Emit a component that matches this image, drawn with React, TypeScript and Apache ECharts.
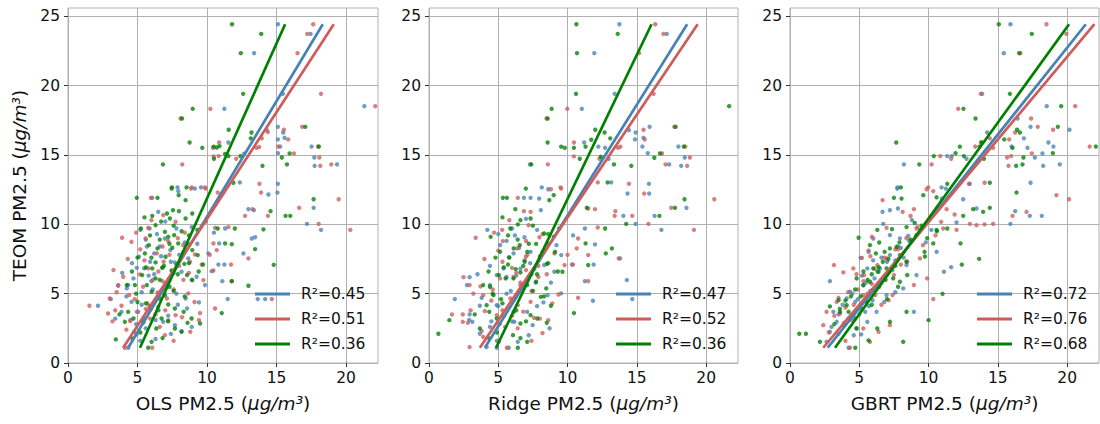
import React, { useEffect, useRef } from 'react';
import * as echarts from 'echarts';

const FONT = "'DejaVu Sans', sans-serif";
const COLORS = ['#4682b4', '#cd5c5c', '#008000'];

const xTicks = [0, 5, 10, 15, 20];
const yTicks = [0, 5, 10, 15, 20, 25];

// regression line y-extent and x-ends (blue, red, green)
const fitY = [1.1, 24.43];
const olsFitX = [[4.33, 18.33], [3.97, 19.12], [5.18, 15.62]];
const ridgeFitX = [[4.03, 18.63], [3.67, 19.39], [4.84, 16.06]];
const gbrtFitX = [[2.72, 21.35], [2.4, 21.97], [3.25, 20.14]];

const olsR2 = ['0.45', '0.51', '0.36'];
const ridgeR2 = ['0.47', '0.52', '0.36'];
const gbrtR2 = ['0.72', '0.76', '0.68'];

const olsBlue = [
  [15.1, 24.43], [17.45, 23.73], [13.39, 22.34], [15.46, 19.41], [21.32, 18.52], [11.25, 18.33], [15.1, 17.03], [15.48, 16.62],
  [15.58, 16.24], [15.1, 16.12], [15.26, 15.61], [17.52, 15.61], [15.1, 15.13], [17.72, 14.82], [17.74, 14.22], [19.35, 14.32],
  [11.54, 15.9], [12.36, 13.02], [15.1, 12.92], [7.88, 12.66], [9.57, 12.66], [14.3, 16.8], [12.67, 15.09],
  [7.93, 12.39], [9.13, 12.58], [12.98, 11.09], [13.37, 11.02], [14.42, 12.15], [15.07, 12.29], [17.67, 11.19], [17.19, 10.03],
  [18.2, 9.6], [13.46, 9.07], [13.22, 8.98], [11.3, 9.7], [10.87, 8.62], [10.1, 7.9], [10.82, 7.1], [11.25, 7.1], [12.62, 7.9],
  [11.49, 4.61], [13.65, 4.61], [14.18, 4.61], [11.1, 5.9], [10.34, 6.62], [9.86, 5.62], [9.25, 6.22], [8.65, 7.54], [8.17, 6.58],
  [7.69, 7.25], [7.36, 8.14], [6.97, 8.98], [6.49, 10.9], [5.87, 9.7], [5.67, 8.4], [5.91, 7.3], [5.48, 6.82], [4.95, 6.86],
  [5.1, 7.66], [4.71, 6.1], [4.33, 5.62], [3.61, 5.57], [3.08, 4.61], [2.16, 4.13], [3.85, 3.69], [4.57, 4.41], [5.05, 3.69],
  [5.53, 3.21], [5.96, 3.89], [6.49, 4.05], [6.85, 2.97], [7.21, 3.41], [7.69, 2.73], [8.17, 2.3], [8.56, 3.93], [9.42, 4.37],
  [8.46, 4.65], [6.3, 1.73], [4.33, 1.1], [4.76, 2.25], [4.23, 5.38], [6.06, 11.91], [6.2, 6.4], [6.7, 7.7], [7.3, 6.1],
  [5.3, 5.1], [6.0, 5.9], [7.8, 5.0], [5.6, 2.5], [4.5, 3.1], [6.6, 8.4], [8.9, 9.8], [9.9, 10.2],
  [5.2, 9.6], [6.4, 9.3], [7.0, 10.2], [7.8, 9.7], [8.4, 8.7], [5.6, 8.9], [6.2, 7.9], [7.4, 7.3], [8.0, 7.8], [4.6, 7.2],
  [5.8, 6.3], [6.8, 6.9], [7.6, 6.5], [8.9, 6.0], [4.2, 4.8], [5.3, 4.2], [6.1, 5.3], [7.0, 5.7], [7.9, 4.2], [3.4, 3.2],
  [4.9, 2.8], [6.3, 3.1], [7.4, 2.1], [8.9, 2.6], [5.2, 1.6], [9.3, 8.6], [10.5, 9.4], [3.9, 6.5],
];
const olsRed = [
  [17.64, 24.43], [17.21, 23.73], [16.51, 22.34], [18.2, 19.41], [22.1, 18.52], [10.24, 18.33], [8.1, 17.63], [15.53, 16.82],
  [15.84, 16.12], [16.85, 17.03], [17.98, 15.61], [16.25, 15.11], [18.08, 14.82], [18.15, 14.22], [18.94, 14.32], [8.22, 14.32],
  [10.87, 15.9], [10.43, 15.52], [10.48, 14.9], [10.84, 14.92], [12.1, 14.73], [13.75, 15.57], [13.56, 15.52], [13.94, 16.2],
  [13.77, 12.92], [8.9, 12.66], [9.86, 12.66], [15.12, 15.61], [14.38, 16.65],
  [5.96, 11.91], [8.85, 12.58], [9.9, 12.58], [10.77, 12.29], [13.89, 12.29], [12.74, 10.61], [13.27, 11.09], [16.63, 11.19],
  [19.47, 11.81], [20.31, 9.6], [18.03, 10.03], [14.38, 10.61], [11.54, 9.8], [10.58, 9.75], [10.46, 8.62], [10.7, 8.14],
  [12.98, 7.54], [11.73, 7.1], [11.78, 5.9], [10.46, 6.67], [9.62, 7.1], [9.13, 7.83], [8.77, 7.3], [8.29, 8.5], [7.74, 10.18],
  [6.85, 10.66], [5.77, 9.75], [4.57, 8.74], [3.89, 9.03], [5.58, 8.98], [6.39, 7.9], [6.88, 7.3], [5.77, 6.82], [5.17, 6.39],
  [3.97, 6.22], [3.27, 6.7], [3.61, 5.62], [3.0, 4.65], [1.54, 4.13], [2.88, 3.57], [3.85, 4.13], [4.47, 3.02], [4.95, 3.69],
  [5.72, 4.29], [6.44, 5.09], [7.12, 4.65], [7.21, 3.09], [7.74, 3.45], [8.65, 5.02], [8.8, 2.25], [9.42, 3.09], [9.5, 3.6],
  [10.58, 3.93], [4.93, 2.06], [6.06, 1.1], [4.09, 1.1], [6.97, 2.01], [9.74, 5.98], [14.66, 4.61], [6.1, 6.0], [7.5, 6.6],
  [5.4, 5.5], [6.8, 8.4], [7.9, 9.0], [4.4, 4.9], [5.9, 3.2], [8.3, 6.0],
  [4.9, 9.4], [6.0, 10.3], [7.2, 8.8], [8.4, 9.4], [5.2, 8.2], [6.5, 6.6], [7.3, 7.8], [8.0, 7.0], [4.3, 7.5], [5.5, 7.4],
  [6.8, 5.9], [7.6, 5.3], [8.7, 6.5], [3.5, 5.1], [4.8, 4.6], [5.6, 3.9], [6.3, 3.5], [7.0, 3.8], [8.2, 3.3], [3.2, 3.0],
  [4.2, 2.4], [5.4, 2.9], [6.6, 2.6], [7.6, 1.6], [9.1, 4.4], [10.2, 7.8], [3.4, 3.8],
];
const olsGreen = [
  [11.8, 24.43], [13.9, 23.73], [12.43, 22.34], [12.6, 19.41], [8.97, 18.33], [8.2, 17.63], [11.56, 16.82], [13.2, 16.62],
  [13.15, 16.2], [8.75, 15.9], [9.66, 15.52], [10.48, 15.6], [10.7, 15.54], [10.9, 15.64], [11.54, 14.92], [10.5, 14.73],
  [11.3, 15.08], [15.38, 14.82], [15.94, 15.11], [17.07, 17.03], [18.05, 15.61], [15.75, 14.32], [13.99, 14.22], [6.83, 14.32],
  [11.9, 13.0], [7.48, 12.66], [8.53, 12.66], [12.4, 14.92],
  [4.95, 11.91], [6.44, 11.91], [7.45, 12.58], [7.96, 12.1], [8.46, 11.74], [7.55, 11.02], [7.33, 10.42], [6.06, 10.61],
  [14.57, 10.95], [15.65, 10.61], [15.99, 10.61], [17.67, 11.81], [14.06, 9.63], [12.0, 9.7], [11.3, 8.62], [11.78, 8.57],
  [10.77, 9.7], [13.46, 8.21], [9.71, 7.1], [11.78, 5.9], [14.8, 7.08], [11.06, 3.6], [12.98, 5.57], [9.5, 2.85], [3.44, 1.7],
  [5.77, 1.1], [5.24, 9.7], [6.3, 9.94], [7.12, 10.78], [7.98, 10.95], [8.46, 10.42], [8.94, 10.78], [6.97, 9.46], [7.64, 9.22],
  [8.17, 9.5], [5.82, 8.5], [6.44, 8.26], [7.02, 7.66], [7.5, 8.31], [7.93, 8.62], [8.7, 8.55], [8.94, 8.14], [9.33, 7.78],
  [6.06, 6.82], [6.3, 7.25], [6.78, 6.86], [7.45, 6.67], [7.81, 7.06], [8.37, 7.15], [8.56, 6.34], [8.94, 5.98], [4.23, 5.62],
  [4.81, 5.62], [5.34, 6.34], [5.67, 5.62], [6.01, 5.14], [6.59, 4.65], [6.97, 4.89], [7.21, 4.22], [7.69, 3.93], [8.32, 3.69],
  [8.89, 3.21], [4.33, 3.69], [4.71, 3.21], [5.43, 2.97], [6.35, 2.49], [6.73, 3.21], [7.69, 2.49], [8.17, 2.25], [6.01, 1.53],
  [4.09, 2.97], [4.62, 1.77], [5.53, 7.9], [7.21, 9.1], [5.9, 4.1], [6.6, 6.0], [7.3, 5.5], [5.0, 4.4],
  [5.5, 10.5], [6.7, 10.2], [7.6, 9.9], [8.7, 9.2], [9.3, 9.6], [5.9, 9.2], [6.6, 8.9], [7.3, 8.6], [8.3, 8.0], [5.0, 7.6],
  [6.0, 7.6], [6.9, 7.0], [7.9, 6.4], [8.7, 7.2], [4.6, 6.6], [5.6, 6.9], [6.3, 6.1], [7.6, 5.2], [8.4, 4.8], [4.9, 5.0],
  [5.6, 4.3], [6.5, 3.8], [7.2, 3.0], [8.6, 2.9], [5.2, 2.2], [6.8, 1.8], [9.4, 6.6], [3.7, 3.5],
];

const ridgeBlue = [
  [13.74, 24.43], [17.16, 23.73], [11.93, 22.34], [13.4, 19.41], [11.03, 18.33], [15.92, 17.03], [14.91, 16.62], [14.87, 16.12],
  [15.48, 16.24], [15.4, 15.61], [18.0, 15.61], [15.79, 15.13], [18.46, 14.82], [18.2, 14.22], [17.33, 14.32], [11.2, 15.9],
  [12.22, 15.6], [12.71, 15.52], [13.15, 13.02], [15.87, 12.92], [7.29, 14.32], [12.96, 14.73], [8.14, 12.66], [14.43, 16.79],
  [6.85, 11.91], [7.33, 11.91], [7.95, 11.86], [8.61, 12.53], [8.07, 11.02], [14.33, 12.22], [15.89, 12.22], [18.58, 11.19],
  [16.28, 10.61], [14.91, 10.03], [16.77, 9.6], [14.03, 10.61], [11.98, 8.55], [11.25, 9.7], [11.88, 7.1], [13.79, 7.54],
  [11.25, 5.9], [11.83, 4.49], [14.67, 4.61], [14.28, 5.98], [10.32, 7.1], [9.54, 7.78], [9.05, 6.58], [8.31, 7.06], [7.33, 8.02],
  [6.89, 9.07], [5.99, 9.7], [5.13, 8.5], [5.77, 7.63], [5.38, 6.82], [4.89, 6.34], [4.21, 9.6], [2.93, 6.19], [2.74, 5.62],
  [4.4, 5.62], [1.86, 4.61], [2.93, 3.5], [3.67, 4.13], [4.89, 4.17], [5.38, 3.36], [6.16, 2.97], [7.09, 3.69], [7.48, 2.73],
  [8.26, 4.37], [8.56, 4.89], [9.54, 5.02], [6.41, 1.53], [3.67, 2.11], [4.89, 1.1], [5.75, 1.1], [4.16, 1.15], [3.13, 2.97],
  [6.3, 6.3], [6.9, 7.4], [5.6, 5.0], [7.7, 5.8], [4.5, 3.0], [6.5, 8.3],
  [5.0, 9.3], [6.2, 9.2], [7.0, 10.4], [7.8, 9.6], [8.6, 8.6], [5.6, 8.8], [6.1, 7.9], [7.3, 7.2], [8.0, 7.7], [4.4, 7.0],
  [5.6, 6.2], [6.6, 6.8], [7.4, 6.4], [8.8, 5.8], [3.8, 4.7], [5.0, 4.1], [5.9, 5.2], [6.8, 5.5], [7.8, 4.1], [2.9, 3.1],
  [4.4, 2.6], [6.0, 3.0], [7.2, 2.0], [8.7, 2.5], [4.9, 1.6], [9.2, 8.5], [10.4, 9.2], [3.5, 6.4],
];
const ridgeRed = [
  [16.33, 24.43], [16.92, 23.73], [15.16, 22.34], [16.21, 19.41], [9.98, 18.33], [8.48, 17.63], [15.48, 16.82], [15.57, 16.12],
  [17.7, 17.03], [18.5, 15.61], [16.82, 15.11], [18.83, 14.82], [18.63, 14.22], [17.07, 14.32], [8.58, 14.32], [10.46, 15.9],
  [10.46, 14.9], [12.3, 14.73], [13.81, 15.6], [13.64, 15.52], [14.43, 12.92], [12.18, 13.02], [9.49, 12.66],
  [6.41, 11.91], [8.8, 12.53], [9.54, 12.58], [6.85, 10.95], [7.33, 10.9], [11.49, 11.14], [11.98, 11.09], [13.45, 10.95],
  [13.4, 10.61], [15.53, 12.22], [17.48, 11.19], [20.59, 11.81], [19.12, 9.6], [15.84, 10.03], [14.67, 10.61], [10.76, 8.98],
  [10.66, 8.26], [11.49, 7.78], [10.39, 7.1], [13.69, 7.54], [12.18, 9.77], [9.78, 7.06], [9.05, 7.9], [8.56, 8.59], [7.97, 9.07],
  [7.19, 9.94], [5.28, 9.6], [3.37, 9.03], [5.33, 8.79], [6.36, 8.26], [6.99, 7.66], [5.99, 6.86], [5.13, 6.1], [2.49, 6.19],
  [2.93, 5.62], [3.72, 5.52], [3.91, 4.89], [1.66, 3.5], [2.44, 3.5], [2.44, 2.97], [4.03, 3.74], [4.89, 3.45], [5.87, 4.65],
  [6.41, 4.17], [7.33, 4.41], [7.58, 3.26], [8.61, 3.09], [9.34, 4.94], [10.76, 4.7], [11.49, 5.9], [2.93, 1.15], [5.04, 1.53],
  [5.62, 1.1], [8.19, 2.16], [3.91, 1.89], [6.1, 6.2], [7.0, 6.7], [4.6, 5.3], [6.6, 5.6], [5.5, 2.6], [7.9, 6.2],
  [4.7, 9.4], [5.8, 10.3], [7.0, 8.8], [8.2, 9.3], [5.0, 8.1], [6.3, 6.5], [7.1, 7.8], [7.9, 7.0], [4.0, 7.5], [5.3, 7.3],
  [6.6, 5.8], [7.4, 5.2], [8.5, 6.4], [3.2, 5.0], [4.5, 4.5], [5.3, 3.8], [6.0, 3.4], [6.8, 3.7], [8.0, 3.2], [2.8, 2.9],
  [3.8, 2.3], [5.1, 2.8], [6.4, 2.5], [7.4, 1.6], [8.9, 4.3], [10.0, 7.8], [3.0, 3.8],
];
const ridgeGreen = [
  [10.64, 24.43], [13.62, 23.73], [10.68, 22.34], [10.61, 19.41], [21.66, 18.52], [8.85, 18.33], [8.56, 17.63], [12.0, 16.82],
  [12.67, 16.62], [13.08, 16.2], [8.56, 15.9], [9.54, 15.6], [9.8, 15.52], [11.3, 15.6], [11.71, 16.1], [17.8, 17.03],
  [18.39, 15.61], [10.88, 14.73], [12.4, 14.87], [14.6, 14.22], [13.35, 14.32], [16.67, 15.11], [16.26, 14.8], [7.38, 14.32],
  [12.89, 13.02], [10.46, 15.52],
  [5.33, 11.91], [5.62, 11.91], [6.99, 12.58], [9.0, 12.1], [8.68, 11.74], [6.23, 11.09], [11.39, 11.19], [12.71, 9.7],
  [13.2, 8.26], [12.76, 7.9], [18.44, 11.81], [16.63, 10.61], [17.75, 11.19], [14.23, 10.03], [11.3, 8.62], [11.49, 7.06],
  [10.46, 3.6], [0.68, 2.11], [1.47, 3.09], [4.45, 9.1], [5.87, 9.7], [6.41, 9.99], [7.33, 10.42], [8.31, 9.34], [9.0, 9.1],
  [5.13, 8.02], [6.11, 8.26], [6.55, 8.5], [7.09, 8.02], [7.73, 8.59], [8.51, 7.15], [9.1, 8.02], [9.63, 6.58], [3.91, 5.62],
  [4.4, 5.5], [4.65, 4.89], [5.04, 6.34], [5.53, 6.1], [6.26, 6.77], [6.6, 6.53], [7.09, 5.62], [7.73, 5.86], [8.07, 4.77],
  [8.46, 5.38], [4.16, 4.17], [4.35, 3.69], [4.89, 3.21], [6.11, 3.69], [6.6, 2.85], [7.33, 3.45], [7.82, 3.21], [8.8, 4.13],
  [6.06, 2.01], [6.41, 1.1], [7.09, 1.53], [4.35, 1.77], [3.67, 2.49], [5.7, 7.1], [6.9, 7.3], [7.6, 6.8], [5.2, 4.6],
  [5.3, 10.5], [6.6, 10.3], [7.5, 9.9], [8.6, 9.3], [9.4, 9.7], [5.7, 9.2], [6.4, 8.9], [7.2, 8.6], [8.2, 8.0], [4.8, 7.6],
  [5.8, 7.6], [6.8, 7.0], [7.8, 6.4], [8.6, 7.2], [4.3, 6.6], [5.4, 6.9], [6.1, 6.1], [7.5, 5.2], [8.3, 4.8], [4.6, 5.0],
  [5.3, 4.3], [6.3, 3.8], [7.0, 3.0], [8.5, 2.9], [4.9, 2.2], [6.6, 1.8], [9.3, 6.6], [3.3, 3.5],
];

const gbrtBlue = [
  [15.91, 24.43], [15.43, 22.34], [13.87, 19.41], [18.53, 18.52], [16.42, 17.63], [17.36, 17.03], [16.88, 16.2], [14.23, 16.62],
  [15.99, 15.61], [17.14, 15.52], [18.65, 15.9], [19.01, 15.61], [20.17, 16.82], [18.22, 15.11], [17.67, 14.82], [18.27, 14.22],
  [19.47, 14.32], [8.22, 14.32], [11.35, 14.92], [11.68, 14.92], [12.74, 14.73], [12.98, 12.92], [17.36, 13.0], [7.76, 12.66],
  [10.94, 12.66],
  [7.74, 12.58], [11.25, 12.58], [6.68, 10.9], [7.21, 11.02], [7.79, 11.14], [10.96, 11.86], [12.5, 11.81], [13.46, 11.14],
  [16.25, 10.95], [17.31, 10.61], [18.17, 10.61], [15.91, 10.03], [12.02, 10.13], [8.53, 9.17], [7.93, 8.98], [7.21, 9.22],
  [6.73, 10.03], [6.01, 8.98], [5.67, 8.02], [5.1, 7.58], [5.58, 6.82], [6.49, 6.82], [6.97, 6.34], [7.21, 7.78], [8.41, 7.06],
  [9.13, 6.34], [10.58, 8.02], [11.63, 6.91], [11.11, 6.58], [8.94, 3.69], [8.17, 5.38], [6.97, 4.89], [6.44, 5.5], [5.96, 4.53],
  [5.43, 3.69], [4.71, 4.41], [4.33, 5.14], [2.88, 5.9], [4.09, 4.65], [3.13, 3.69], [3.37, 2.97], [2.88, 2.25], [3.85, 2.73],
  [4.81, 2.49], [2.64, 1.53], [4.23, 1.1], [5.14, 2.06], [5.58, 2.97], [6.25, 3.69], [6.1, 6.1], [7.6, 7.4], [5.3, 5.6],
  [4.6, 3.5], [8.0, 8.3], [6.6, 7.6],
  [5.5, 5.8], [6.3, 6.6], [7.0, 7.3], [7.8, 8.4], [8.6, 8.8], [9.4, 9.6], [6.0, 7.4], [5.2, 6.3], [4.5, 5.0], [3.8, 4.2],
  [4.9, 4.6], [5.8, 5.2], [6.6, 5.8], [7.4, 6.7], [8.2, 7.6], [9.8, 8.7], [3.5, 3.5], [4.2, 3.2], [5.0, 3.5], [5.7, 4.1],
  [6.8, 4.4], [3.0, 2.6], [4.6, 2.0], [7.6, 5.1], [8.8, 10.3], [10.2, 9.6],
];
const gbrtRed = [
  [18.51, 24.43], [19.95, 23.73], [16.63, 22.34], [13.77, 19.41], [20.58, 18.52], [12.14, 18.33], [17.4, 17.63], [17.88, 17.03],
  [18.99, 16.82], [16.25, 16.62], [15.82, 16.12], [21.63, 15.61], [14.42, 16.2], [13.37, 15.61], [14.66, 15.52], [13.8, 15.9],
  [17.45, 15.11], [15.67, 14.82], [15.96, 14.92], [15.77, 14.22], [10.22, 14.32], [10.84, 14.92], [11.63, 14.73], [14.04, 13.0],
  [12.91, 12.92], [9.98, 12.66],
  [6.68, 11.74], [9.86, 12.53], [10.34, 12.39], [11.3, 11.09], [11.88, 10.71], [12.02, 9.6], [13.46, 9.94], [14.04, 9.99],
  [14.66, 10.03], [16.06, 10.61], [17.07, 10.9], [19.23, 12.1], [20.14, 11.81], [12.98, 10.03], [10.91, 10.18], [11.06, 9.7],
  [9.13, 9.7], [8.94, 11.09], [8.13, 10.9], [6.97, 9.75], [5.91, 9.1], [5.67, 8.11], [5.19, 7.58], [3.85, 6.53], [3.17, 7.06],
  [4.57, 6.82], [5.34, 6.34], [6.3, 7.06], [6.97, 7.54], [7.5, 6.34], [8.46, 7.3], [9.38, 7.54], [10.34, 4.61], [9.9, 6.1],
  [8.94, 5.62], [7.12, 4.53], [6.15, 4.89], [5.29, 4.89], [3.37, 4.41], [2.4, 2.73], [2.64, 3.69], [3.61, 3.57], [4.45, 3.09],
  [5.29, 2.49], [6.39, 2.25], [4.33, 1.1], [5.77, 1.53], [7.21, 2.73], [4.0, 4.0], [5.9, 5.7], [6.6, 6.0], [4.9, 5.3],
  [7.8, 8.2], [3.5, 2.1],
  [5.3, 5.9], [6.1, 6.8], [6.8, 7.6], [7.6, 8.2], [8.4, 9.0], [9.2, 9.8], [5.8, 7.7], [4.8, 6.4], [4.2, 5.1], [3.5, 4.7],
  [4.6, 4.2], [5.6, 5.0], [6.4, 5.5], [7.2, 6.6], [8.0, 7.1], [9.6, 8.5], [3.2, 3.4], [3.9, 2.9], [4.8, 3.8], [5.5, 4.4],
  [6.6, 4.2], [2.8, 2.2], [4.0, 1.6], [7.4, 4.9], [8.7, 10.6], [10.5, 9.2],
];
const gbrtGreen = [
  [15.07, 24.43], [17.45, 23.73], [16.54, 22.34], [15.87, 19.41], [19.57, 18.52], [12.52, 18.33], [13.39, 17.63], [19.33, 17.03],
  [16.59, 16.62], [16.39, 16.82], [15.46, 16.12], [22.07, 15.61], [16.06, 15.52], [12.26, 15.6], [13.68, 15.61], [13.82, 15.9],
  [18.97, 15.13], [16.85, 14.82], [16.78, 14.32], [16.32, 14.22], [14.42, 13.0], [13.99, 14.73], [12.55, 14.92], [10.38, 14.92],
  [11.95, 15.13], [9.33, 14.32], [7.67, 15.9], [11.35, 12.92], [8.0, 12.66],
  [7.5, 11.91], [8.05, 11.86], [9.62, 12.1], [10.58, 11.95], [13.22, 11.09], [14.42, 11.19], [16.35, 12.29], [13.94, 10.9],
  [12.5, 10.61], [11.35, 9.7], [10.58, 9.6], [13.65, 7.51], [12.4, 7.1], [12.31, 8.62], [10.34, 8.62], [9.71, 8.02], [9.74, 7.68],
  [9.13, 9.22], [8.41, 9.8], [7.36, 9.65], [6.3, 9.6], [4.95, 9.03], [5.77, 8.5], [6.44, 8.69], [6.83, 8.02], [7.21, 8.26],
  [7.69, 8.38], [7.93, 7.78], [6.01, 6.82], [6.39, 6.58], [6.97, 6.82], [7.45, 6.1], [7.93, 5.86], [8.46, 6.34], [4.81, 6.1],
  [5.29, 5.62], [5.77, 5.86], [3.51, 4.53], [4.09, 4.17], [2.88, 4.08], [3.61, 3.69], [4.23, 3.69], [4.71, 3.21], [5.53, 4.41],
  [7.21, 2.97], [8.41, 3.69], [11.01, 4.99], [10.0, 3.09], [8.17, 1.53], [0.67, 2.11], [1.15, 2.11], [2.16, 1.53], [5.67, 1.63],
  [4.71, 1.1], [6.3, 2.49], [5.9, 6.4], [6.7, 7.3], [4.4, 4.8],
  [5.6, 6.0], [6.4, 6.9], [7.1, 7.5], [7.9, 8.7], [8.7, 8.9], [9.5, 9.9], [6.2, 7.9], [5.3, 6.6], [4.7, 5.3], [4.0, 4.5],
  [5.1, 4.8], [6.0, 5.3], [6.9, 6.0], [7.6, 7.0], [8.4, 7.3], [9.9, 9.0], [3.6, 3.9], [4.4, 3.4], [5.2, 3.9], [5.9, 4.2],
  [7.0, 4.6], [3.2, 2.8], [4.8, 2.5], [7.8, 5.5], [9.0, 10.1], [10.6, 9.5],
];

const panels = [
  { label: 'OLS', scatter: [olsBlue, olsRed, olsGreen], fits: olsFitX, r2: olsR2 },
  { label: 'Ridge', scatter: [ridgeBlue, ridgeRed, ridgeGreen], fits: ridgeFitX, r2: ridgeR2 },
  { label: 'GBRT', scatter: [gbrtBlue, gbrtRed, gbrtGreen], fits: gbrtFitX, r2: gbrtR2 },
];

const layout = [
  { left: 68, width: 310, legendLeft: 250 },
  { left: 429, width: 309, legendLeft: 611 },
  { left: 790, width: 309, legendLeft: 972 },
];

export default function App() {
  const ref = useRef<HTMLDivElement>(null);
  useEffect(() => {
    if (!ref.current) return;
    const chart = echarts.init(ref.current, null, { renderer: 'svg' });
    const textColor = '#111';
    const grid = layout.map((l) => ({
      left: l.left, top: 8, width: l.width, height: 355, show: true,
      borderColor: '#b0b0b0', borderWidth: 1, backgroundColor: 'transparent',
    }));
    const rich = { i: { fontStyle: 'italic', fontFamily: FONT, fontSize: 18.5, color: textColor } };
    const xAxis = panels.map((p, i) => ({
      gridIndex: i, type: 'value', min: 0, max: 22.3,
      name: `${p.label} PM2.5 ({i|μg/m³})`, nameLocation: 'middle', nameGap: 31,
      nameTextStyle: { fontFamily: FONT, fontSize: 18.5, color: textColor, rich },
      axisLine: { show: false },
      axisTick: { show: true, length: 4, customValues: xTicks, lineStyle: { color: '#333' } },
      axisLabel: { fontFamily: FONT, fontSize: 15.5, color: textColor, margin: 7, customValues: xTicks },
      splitLine: { show: true, lineStyle: { color: '#b0b0b0', width: 1 } },
    }));
    const yAxis = panels.map((p, i) => ({
      gridIndex: i, type: 'value', min: 0, max: 25.6,
      name: i === 0 ? 'TEOM PM2.5 ({i|μg/m³})' : '', nameLocation: 'middle', nameGap: 39,
      nameTextStyle: { fontFamily: FONT, fontSize: 18.5, color: textColor, rich },
      axisLine: { show: false },
      axisTick: { show: true, length: 4, customValues: yTicks, lineStyle: { color: '#333' } },
      axisLabel: { fontFamily: FONT, fontSize: 15.5, color: textColor, margin: 8, customValues: yTicks },
      splitLine: { show: true, lineStyle: { color: '#b0b0b0', width: 1 } },
    }));
    const series: any[] = [];
    panels.forEach((p, gi) => {
      p.scatter.forEach((pts, ci) => {
        series.push({
          type: 'scatter', xAxisIndex: gi, yAxisIndex: gi, data: pts, symbolSize: 4.4, silent: true,
          itemStyle: { color: COLORS[ci], opacity: 0.78 }, z: 2,
        });
      });
      p.fits.forEach((fx, ci) => {
        series.push({
          type: 'line', name: `R²=${p.r2[ci]}`, xAxisIndex: gi, yAxisIndex: gi,
          data: [[fx[0], fitY[0]], [fx[1], fitY[1]]], symbol: 'none', silent: true,
          color: COLORS[ci], itemStyle: { color: COLORS[ci] },
          lineStyle: { color: COLORS[ci], width: 2.7 }, z: 3,
        });
      });
    });
    const legend = panels.map((p, i) => ({
      left: layout[i].legendLeft, top: 280, orient: 'vertical', icon: 'rect',
      itemWidth: 35, itemHeight: 3, itemGap: 7, selectedMode: false,
      data: p.r2.map((r) => `R²=${r}`),
      textStyle: { fontFamily: FONT, fontSize: 15.5, color: textColor, lineHeight: 18, padding: [0, 0, 0, 6] },
    }));
    chart.setOption({ animation: false, grid, xAxis, yAxis, series, legend });
    return () => chart.dispose();
  }, []);
  return <div ref={ref} style={{ position: 'absolute', left: 0, top: 0, width: 1100, height: 424 }} />;
}
